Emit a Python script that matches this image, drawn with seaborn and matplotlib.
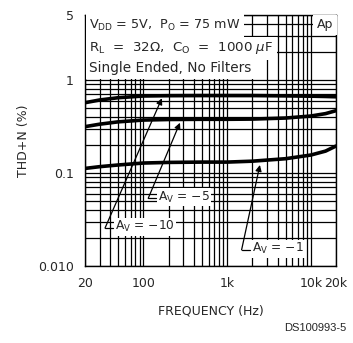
import numpy as np
import pandas as pd
import matplotlib
matplotlib.use("Agg")
import matplotlib.pyplot as plt
import seaborn as sns

freq = [20, 30, 50, 100, 200, 500, 1000, 2000, 5000, 10000, 15000, 20000]
thd_av10 = [0.570, 0.61, 0.645, 0.673, 0.678, 0.68, 0.68, 0.68, 0.675, 0.67, 0.665, 0.66]
thd_av5 = [0.315, 0.335, 0.355, 0.371, 0.376, 0.378, 0.378, 0.38, 0.39, 0.41, 0.435, 0.468]
thd_av1 = [0.112, 0.117, 0.122, 0.128, 0.130, 0.131, 0.131, 0.134, 0.1425, 0.156, 0.172, 0.195]
series_names = ["A_V = -10", "A_V = -5", "A_V = -1"]

x_ticks = [20, 100, 1000, 10000, 20000]
x_ticklabels = ["20", "100", "1k", "10k", "20k"]
y_ticks = [0.01, 0.1, 1, 5]
y_ticklabels = ["0.010", "0.1", "1", "5"]

df = pd.DataFrame({
    "freq": freq * 3,
    "thd": thd_av10 + thd_av5 + thd_av1,
    "series": [series_names[0]] * len(freq) + [series_names[1]] * len(freq) + [series_names[2]] * len(freq),
})

sns.set_style("white")
plt.rcParams["font.family"] = ["DejaVu Sans"]

fig = plt.figure(figsize=(3.53, 3.43), dpi=100)
ax = fig.add_axes([85 / 353, 1 - 266 / 343, 251 / 353, 251 / 343])
ax.set_xscale("log")
ax.set_yscale("log")
ax.set_xlim(20, 20000)
ax.set_ylim(0.01, 5)

# grid
xg = [m * 10 ** e for e in range(1, 5) for m in range(1, 10)]
xg = [v for v in xg if 20 <= v <= 20000]
yg = [m * 10 ** e for e in range(-2, 1) for m in range(1, 10)]
yg = [v for v in yg if 0.01 <= v <= 5]
for v in xg:
    ax.axvline(v, color="black", lw=0.9, zorder=1)
for v in yg:
    ax.axhline(v, color="black", lw=0.9, zorder=1)

sns.lineplot(data=df, x="freq", y="thd", hue="series", palette=["black"] * 3,
             linewidth=2.6, legend=False, ax=ax, zorder=3, sort=True)

for s in ax.spines.values():
    s.set_color("black")
    s.set_linewidth(1.0)

ax.set_xticks(x_ticks)
ax.set_xticklabels(x_ticklabels, fontsize=9)
ax.set_yticks(y_ticks)
ax.set_yticklabels(y_ticklabels, fontsize=9)
ax.minorticks_off()
ax.tick_params(length=0, pad=8)
ax.set_xlabel("FREQUENCY (Hz)", fontsize=9, labelpad=10)
ax.set_ylabel("THD+N (%)", fontsize=9, labelpad=6)

# text box
box = dict(facecolor="white", edgecolor="none", pad=2.6)
ax.text(22.5, 3.85, r"V$_{\rm DD}$ = 5V,  P$_{\rm O}$ = 75 mW", fontsize=9.2,
        va="center", ha="left", bbox=box, zorder=5)
ax.text(22.5, 2.2, r"R$_{\rm L}$  =  32$\Omega$,  C$_{\rm O}$  =  1000 $\mu$F", fontsize=9.6,
        va="center", ha="left", bbox=box, zorder=5)
ax.text(22.5, 1.33, "Single Ended, No Filters", fontsize=9.8,
        va="center", ha="left", bbox=box, zorder=5)
ax.text(11800, 3.95, "Ap", fontsize=9, va="center", ha="left",
        bbox=dict(facecolor="white", edgecolor="none", pad=2.5), zorder=5)

# annotations
annos = [
    ("A$_{\\rm V}$ = \u221210", (34.7, 0.0256), (166, 0.636)),
    ("A$_{\\rm V}$ = \u22125", (114, 0.0535), (273, 0.347)),
    ("A$_{\\rm V}$ = \u22121", (1488, 0.0149), (2463, 0.122)),
]
for label, tail, head in annos:
    ax.annotate("", xy=head, xytext=tail,
                arrowprops=dict(arrowstyle="-|>", color="black", lw=0.9,
                                mutation_scale=9, shrinkA=0, shrinkB=0), zorder=6)
    ax.plot([tail[0], tail[0] * 1.25], [tail[1], tail[1]], color="black", lw=0.9, zorder=6)
    ax.text(tail[0] * 1.32, tail[1] * 1.03, label, fontsize=8.8, va="center", ha="left",
            bbox=dict(facecolor="white", edgecolor="none", pad=1.0), zorder=5)

fig.text(0.98, 0.045, "DS100993-5", fontsize=8, ha="right", va="center",
         family=["Liberation Sans", "DejaVu Sans"])

fig.savefig("out.png", dpi=100)
